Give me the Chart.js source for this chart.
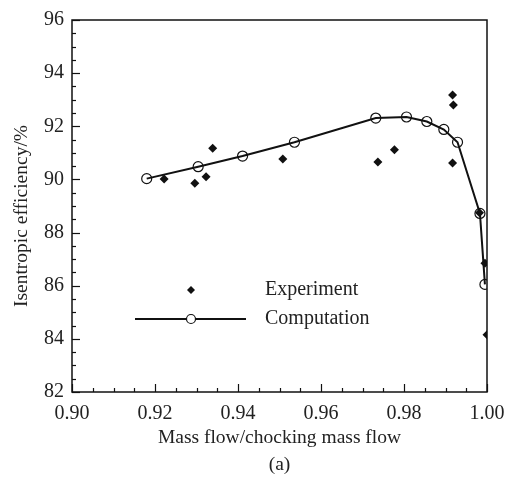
<!DOCTYPE html>
<html>
<head>
<meta charset="utf-8">
<script src="https://cdn.jsdelivr.net/npm/chart.js@4.4.1/dist/chart.umd.min.js"></script>
<style>
  html, body { margin: 0; padding: 0; background: #fff; }
  #wrap { width: 516px; height: 479px; }
</style>
</head>
<body>
<div id="wrap"><canvas id="effCanvas" width="516" height="479"></canvas></div>
<script>
// computation curve (open circles + line)
const compX = [0.9180, 0.9304, 0.9411, 0.9536, 0.9732, 0.9806, 0.9855, 0.9896, 0.9929, 0.9983, 0.9995];
const compY = [90.03, 90.48, 90.88, 91.40, 92.31, 92.35, 92.18, 91.88, 91.40, 88.72, 86.05];

// experiment (filled diamonds)
const expX = [0.9222, 0.9296, 0.9323, 0.9339, 0.9508, 0.9737, 0.9777, 0.9917, 0.9919, 0.9917, 0.9982, 0.9995, 1.0000];
const expY = [90.02, 89.86, 90.10, 91.17, 90.77, 90.66, 91.12, 93.18, 92.80, 90.62, 88.75, 86.85, 84.15];

const xTicks = [0.90, 0.92, 0.94, 0.96, 0.98, 1.00];
const yTicks = [82, 84, 86, 88, 90, 92, 94, 96];

const FONT = 'Liberation Serif';

// frame, inward ticks, y title and in-plot legend
const framePlugin = {
  id: 'frame',
  afterDraw(chart) {
    const { ctx, chartArea: a, scales: { x, y } } = chart;
    ctx.save();
    ctx.strokeStyle = '#111';
    ctx.lineWidth = 1.5;
    ctx.strokeRect(a.left, a.top, a.right - a.left, a.bottom - a.top);

    ctx.lineWidth = 1.2;
    for (let v = 0.90; v <= 1.0001; v += 0.005) {
      const px = Math.round(x.getPixelForValue(v)) + 0.5;
      const major = Math.abs(v * 50 - Math.round(v * 50)) < 1e-6;
      ctx.beginPath();
      ctx.moveTo(px, a.bottom);
      ctx.lineTo(px, a.bottom - (major ? 8 : 4));
      ctx.stroke();
    }
    for (let v = 82; v <= 96.001; v += 0.5) {
      const py = Math.round(y.getPixelForValue(v)) + 0.5;
      const major = Math.abs(v / 2 - Math.round(v / 2)) < 1e-6;
      ctx.beginPath();
      ctx.moveTo(a.left, py);
      ctx.lineTo(a.left + (major ? 8 : 4), py);
      ctx.stroke();
    }

    // y axis title
    ctx.fillStyle = '#222';
    ctx.font = '19.5px "' + FONT + '"';
    ctx.textAlign = 'center';
    ctx.textBaseline = 'middle';
    ctx.save();
    ctx.translate(22, 216);
    ctx.rotate(-Math.PI / 2);
    ctx.fillText('Isentropic efficiency/%', 0, 0);
    ctx.restore();

    // legend
    const lx = 191, ly1 = 290, ly2 = 319;
    ctx.fillStyle = '#111';
    ctx.beginPath();
    ctx.moveTo(lx, ly1 - 4); ctx.lineTo(lx + 4, ly1); ctx.lineTo(lx, ly1 + 4); ctx.lineTo(lx - 4, ly1);
    ctx.closePath(); ctx.fill();
    ctx.lineWidth = 1.8;
    ctx.beginPath(); ctx.moveTo(135, ly2); ctx.lineTo(246, ly2); ctx.stroke();
    ctx.fillStyle = '#fff';
    ctx.lineWidth = 1.2;
    ctx.beginPath(); ctx.arc(lx, ly2, 4.5, 0, Math.PI * 2); ctx.fill(); ctx.stroke();
    ctx.fillStyle = '#222';
    ctx.font = '20px "' + FONT + '"';
    ctx.textAlign = 'left';
    ctx.fillText('Experiment', 265, ly1);
    ctx.fillText('Computation', 265, ly2);
    ctx.restore();
  }
};

new Chart(document.getElementById('effCanvas').getContext('2d'), {
  type: 'scatter',
  data: {
    datasets: [
      {
        label: 'Computation',
        data: compX.map((v, i) => ({ x: v, y: compY[i] })),
        showLine: true,
        borderColor: '#111',
        borderWidth: 2,
        pointStyle: 'circle',
        pointRadius: 5,
        pointBorderWidth: 1.2,
        pointBackgroundColor: 'rgba(255,255,255,0)',
        pointBorderColor: '#111',
        order: 2,
      },
      {
        label: 'Experiment',
        data: expX.map((v, i) => ({ x: v, y: expY[i] })),
        pointStyle: 'rectRot',
        pointRadius: 4.5,
        pointBackgroundColor: '#111',
        pointBorderColor: '#111',
        pointBorderWidth: 0,
        order: 1,
      },
    ],
  },
  options: {
    responsive: false,
    animation: false,
    layout: { padding: { left: 0, top: 18, right: 29, bottom: 0 } },
    plugins: { legend: { display: false }, tooltip: { enabled: false } },
    scales: {
      x: {
        type: 'linear',
        min: 0.90, max: 1.00,
        afterFit: s => { s.height = 87; },
        afterBuildTicks: s => { s.ticks = xTicks.map(v => ({ value: v })); },
        grid: { display: false, drawTicks: false },
        border: { display: false },
        ticks: {
          color: '#222', padding: 10,
          font: { family: FONT, size: 20 },
          callback: v => v.toFixed(2),
        },
        title: {
          display: true,
          text: ['Mass flow/chocking mass flow', '(a)'],
          color: '#222',
          font: { family: FONT, size: 19.5, lineHeight: 1.4 },
          padding: { top: 2, bottom: 0 },
        },
      },
      y: {
        type: 'linear',
        min: 82, max: 96,
        afterFit: s => { s.width = 72; },
        afterBuildTicks: s => { s.ticks = yTicks.map(v => ({ value: v })); },
        grid: { display: false, drawTicks: false },
        border: { display: false },
        ticks: {
          color: '#222', padding: 8,
          font: { family: FONT, size: 20 },
        },
      },
    },
  },
  plugins: [framePlugin],
});
</script>
</body>
</html>
